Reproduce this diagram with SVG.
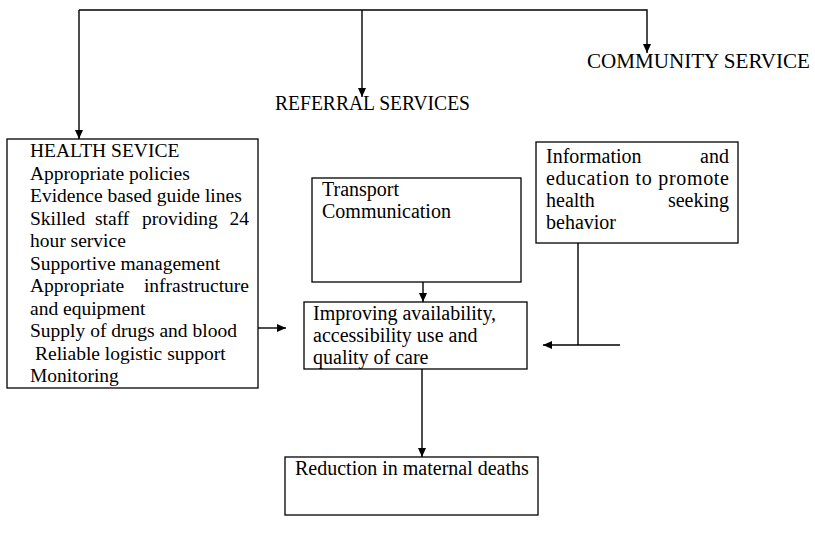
<svg xmlns="http://www.w3.org/2000/svg" width="815" height="545" viewBox="0 0 815 545">
<style>
.box{fill:#fff;stroke:#000;stroke-width:1.3}
.ln{fill:none;stroke:#000;stroke-width:1.4}
text{font-family:"Liberation Serif","Times New Roman",serif;font-size:20px;fill:#000}
.hs text{font-size:19.5px}
.end{text-anchor:end}
</style>
<defs>
<marker id="ah" markerWidth="10" markerHeight="10" refX="9" refY="5" orient="auto" markerUnits="userSpaceOnUse">
<path d="M0,1 L9,5 L0,9 Z" fill="#000"/>
</marker>
</defs>
<g id="connectors">
<polyline class="ln" points="79,10 647,10 647,53" marker-end="url(#ah)"/>
<line class="ln" x1="79" y1="10" x2="79" y2="139" marker-end="url(#ah)"/>
<line class="ln" x1="362" y1="10" x2="362" y2="97" marker-end="url(#ah)"/>
<line class="ln" x1="255" y1="328" x2="286" y2="328" marker-end="url(#ah)"/>
<line class="ln" x1="423" y1="278" x2="423" y2="302" marker-end="url(#ah)"/>
<line class="ln" x1="578" y1="243" x2="578" y2="345"/>
<line class="ln" x1="620" y1="345" x2="543" y2="345" marker-end="url(#ah)"/>
<line class="ln" x1="422" y1="369" x2="422" y2="457" marker-end="url(#ah)"/>
</g>
<g id="community">
<text x="587" y="68" textLength="223" lengthAdjust="spacingAndGlyphs">COMMUNITY SERVICE</text>
</g>
<g id="referral">
<text x="275" y="110" textLength="195" lengthAdjust="spacingAndGlyphs">REFERRAL SERVICES</text>
</g>
<g id="health" class="hs">
<rect class="box" x="7" y="139" width="251" height="249"/>
<text x="30" y="157">HEALTH SEVICE</text>
<text x="30" y="180">Appropriate policies</text>
<text x="30" y="202">Evidence based guide lines</text>
<text x="30" y="225">Skilled</text>
<text x="95" y="225">staff</text>
<text x="142" y="225">providing</text>
<text class="end" x="249" y="225">24</text>
<text x="30" y="247">hour service</text>
<text x="30" y="270">Supportive management</text>
<text x="30" y="292">Appropriate</text>
<text class="end" x="249" y="292">infrastructure</text>
<text x="30" y="315">and equipment</text>
<text x="30" y="337">Supply of drugs and blood</text>
<text x="35" y="360">Reliable logistic support</text>
<text x="30" y="382">Monitoring</text>
</g>
<g id="transport">
<rect class="box" x="312" y="178" width="209" height="104"/>
<text x="322" y="196">Transport</text>
<text x="322" y="218">Communication</text>
</g>
<g id="information">
<rect class="box" x="536" y="142" width="202" height="101"/>
<text x="546" y="163">Information</text>
<text class="end" x="729" y="163">and</text>
<text x="546" y="185" textLength="183" lengthAdjust="spacing">education to promote</text>
<text x="546" y="207">health</text>
<text class="end" x="729" y="207">seeking</text>
<text x="546" y="229">behavior</text>
</g>
<g id="improving">
<rect class="box" x="304" y="302" width="223" height="67"/>
<text x="313" y="320">Improving availability,</text>
<text x="313" y="342">accessibility use and</text>
<text x="313" y="364">quality of care</text>
</g>
<g id="reduction">
<rect class="box" x="285" y="457" width="253" height="58"/>
<text x="295" y="475">Reduction in maternal deaths</text>
</g>
</svg>
